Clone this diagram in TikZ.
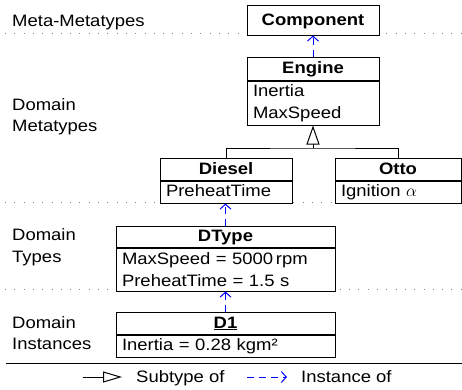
\documentclass[tikz,border=0pt]{standalone}
\usepackage{fontspec}
\setmainfont{Liberation Sans}[FakeStretch=1.12]
\usetikzlibrary{positioning, arrows.meta}

\begin{document}
\begin{tikzpicture}[x=1pt, y=-1pt, font=\fontsize{16.5}{21.5}\selectfont]
    \tikzstyle{head} = [draw, fill=white, line width=1pt, font=\fontsize{16.5}{21.5}\selectfont\bfseries, inner sep=0pt, text height=13pt, text depth=2.5pt];
    \tikzstyle{attrs} = [draw, fill=white, line width=1pt, align=left, inner xsep=6pt, inner ysep=0pt];
    \tikzstyle{level} = [gray, line width=1pt, dash pattern=on 1pt off 8.3pt];
    \tikzstyle{label} = [anchor=west, align=left, inner sep=0pt];
    \tikzstyle{instance} = [blue, line width=1pt, dash pattern=on 7pt off 5pt, -{Straight Barb[length=5pt, width=11pt]}];
    \tikzstyle{subtype} = [line width=1pt, -{Triangle[open, length=19pt, width=13pt, fill=white]}];

    \useasboundingbox (0,0) rectangle (462,389);

    \draw[level] (5,33) -- (462,33);
    \draw[level] (5,202) -- (462,202);
    \draw[level] (5,289) -- (462,289);
    \draw[line width=1pt] (6,363) -- (462,363);

    \node[label, anchor=base west] (meta) at (12,26) {Meta-Metatypes};
    \node[label] (metatypes) at (12,116.5) {Domain\\Metatypes};
    \node[label] (types) at (12,247) {Domain\\Types};
    \node[label] (instances) at (12,333) {Domain\\Instances};

    \node[head, minimum width=132pt, minimum height=30pt] (component) at (313,20) {Component};

    \node[head, minimum width=132pt, minimum height=23pt] (engine) at (313,68.5) {Engine};
    \node[attrs, below=0pt of engine, text width=120pt, minimum height=44pt] (engine-attr) {Inertia\\MaxSpeed};

    \node[head, minimum width=132pt, minimum height=22pt] (diesel) at (226,169) {Diesel};
    \node[attrs, below=0pt of diesel, text width=120pt, minimum height=22pt, text depth=3.5pt] (diesel-attr) {PreheatTime};

    \node[head, minimum width=126pt, minimum height=22pt] (otto) at (398,169) {Otto};
    \node[attrs, below=0pt of otto, text width=114pt, minimum height=22pt, text depth=3.5pt] (otto-attr) {Ignition $\alpha$};

    \node[head, minimum width=219pt, minimum height=21pt] (dtype) at (225.5,236.5) {DType};
    \node[attrs, below=0pt of dtype, text width=207pt, minimum height=43pt] (dtype-attr) {MaxSpeed = 5000\,rpm\\PreheatTime = 1.5 s};

    \node[head, minimum width=219pt, minimum height=22pt] (d1) at (225.5,323) {\underline{D1}};
    \node[attrs, below=0pt of d1, text width=207pt, minimum height=22pt, text depth=3.5pt] (d1-attr) {Inertia = 0.28 kgm²};

    \coordinate (fork) at (313,148);
    \draw[line width=1pt] (diesel.north) |- (fork) -| (otto.north);
    \draw[subtype] (fork) -- (engine-attr.south);

    \draw[instance] (engine.north) -- (component.south);
    \draw[instance] (dtype.north) -- (dtype.north |- diesel-attr.south);
    \draw[instance] (d1.north) -- (dtype-attr.south);

    \coordinate (sub-from) at (83,377);
    \coordinate (sub-to) at (122,377);
    \node[label, anchor=base west] (sub-text) at (136,382.5) {Subtype of};
    \draw[line width=1pt, -{Triangle[open, length=19pt, width=11pt]}] (sub-from) -- (sub-to);

    \coordinate (inst-from) at (247,377);
    \coordinate (inst-to) at (287,377);
    \node[label, anchor=base west] (inst-text) at (301,382.5) {Instance of};
    \draw[instance] (inst-from) -- (inst-to);
\end{tikzpicture}
\end{document}
